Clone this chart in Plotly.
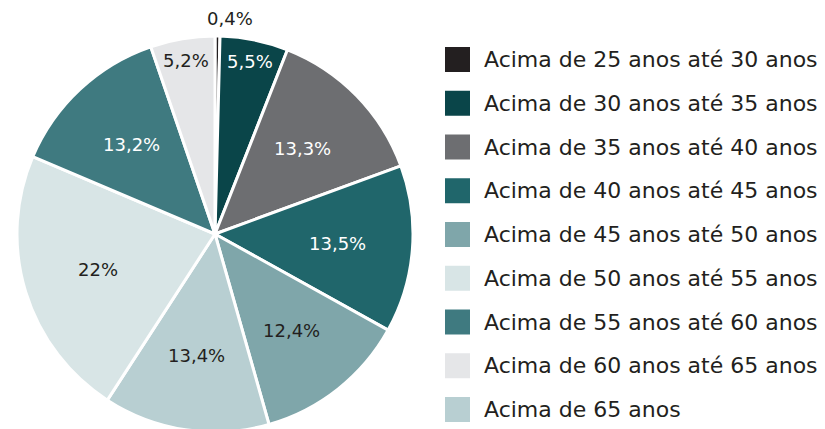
import math
import plotly.graph_objects as go

# Pie slices (in drawing order, clockwise from 12 o'clock)
slice_labels = [
    "Acima de 25 anos até 30 anos",
    "Acima de 30 anos até 35 anos",
    "Acima de 35 anos até 40 anos",
    "Acima de 40 anos até 45 anos",
    "Acima de 45 anos até 50 anos",
    "Acima de 65 anos",
    "Acima de 50 anos até 55 anos",
    "Acima de 55 anos até 60 anos",
    "Acima de 60 anos até 65 anos",
]
slice_values = [0.4, 5.5, 13.3, 13.5, 12.4, 13.4, 22, 13.2, 5.2]

# Legend order
legend_labels = [
    "Acima de 25 anos até 30 anos",
    "Acima de 30 anos até 35 anos",
    "Acima de 35 anos até 40 anos",
    "Acima de 40 anos até 45 anos",
    "Acima de 45 anos até 50 anos",
    "Acima de 50 anos até 55 anos",
    "Acima de 55 anos até 60 anos",
    "Acima de 60 anos até 65 anos",
    "Acima de 65 anos",
]

color_map = {
    "Acima de 25 anos até 30 anos": "#231f20",
    "Acima de 30 anos até 35 anos": "#0a4549",
    "Acima de 35 anos até 40 anos": "#6d6e71",
    "Acima de 40 anos até 45 anos": "#20666b",
    "Acima de 45 anos até 50 anos": "#7fa6aa",
    "Acima de 50 anos até 55 anos": "#d8e5e6",
    "Acima de 55 anos até 60 anos": "#3f7a80",
    "Acima de 60 anos até 65 anos": "#e5e6e8",
    "Acima de 65 anos": "#b8cfd2",
}
dark_labels = {
    "Acima de 30 anos até 35 anos",
    "Acima de 35 anos até 40 anos",
    "Acima de 40 anos até 45 anos",
    "Acima de 55 anos até 60 anos",
}

# Figure geometry (page has an 8px body margin)
W, H = 817, 429
TOP = 28
PLOT_H = H - TOP
CX_PX, R_PX = 207, 198
FONT = "DejaVu Sans, Verdana, sans-serif"
TEXT_DARK = "#231f20"

texts = [f"{v:g}".replace(".", ",") + "%" for v in slice_values]
colors = [color_map[l] for l in slice_labels]

dom_y0 = (PLOT_H - 2 * R_PX) / PLOT_H

fig = go.Figure()
fig.add_trace(go.Pie(
    labels=slice_labels,
    values=slice_values,
    textinfo="none",
    sort=False,
    direction="clockwise",
    rotation=0,
    marker=dict(colors=colors, line=dict(color="#ffffff", width=3)),
    showlegend=False,
    hoverinfo="label+percent",
    domain=dict(x=[(CX_PX - R_PX) / W, (CX_PX + R_PX) / W], y=[dom_y0, 1]),
))

# Slice labels placed at the mid-angle of each slice
total = sum(slice_values)
cx_paper = CX_PX / W
cy_paper = 1 - R_PX / PLOT_H
rx = R_PX / W
ry = R_PX / PLOT_H
cum = 0.0
for lab, v, t in zip(slice_labels, slice_values, texts):
    frac = v / total
    mid = (cum + frac / 2) * 2 * math.pi
    cum += frac
    if frac < 0.01:
        rf, col, xs = 1.09, TEXT_DARK, 12
    elif frac < 0.07:
        rf, col, xs = 0.89, ("#ffffff" if lab in dark_labels else TEXT_DARK), 0
    else:
        rf, col, xs = 0.62, ("#ffffff" if lab in dark_labels else TEXT_DARK), 0
    fig.add_annotation(
        xref="paper", yref="paper",
        x=cx_paper + rf * rx * math.sin(mid),
        y=cy_paper + rf * ry * math.cos(mid),
        xshift=xs,
        text=t, showarrow=False, xanchor="center", yanchor="middle",
        font=dict(size=18, color=col, family=FONT),
    )

# Custom legend built from the legend arrays
x0_px, sq = 437, 25
y_first, step = 51.5, 43.75


def yp(px):
    return 1 - (px - TOP) / PLOT_H


for i, lab in enumerate(legend_labels):
    yc = y_first + i * step
    fig.add_shape(
        type="rect", xref="paper", yref="paper",
        x0=x0_px / W, x1=(x0_px + sq) / W,
        y0=yp(yc + sq / 2), y1=yp(yc - sq / 2),
        fillcolor=color_map[lab], line=dict(width=0),
    )
    fig.add_annotation(
        xref="paper", yref="paper", x=474 / W, y=yp(yc),
        text=lab, showarrow=False, xanchor="left", yanchor="middle",
        font=dict(size=22, color=TEXT_DARK, family=FONT),
    )

fig.update_layout(
    width=W, height=H,
    margin=dict(l=0, r=0, t=TOP, b=0),
    paper_bgcolor="#ffffff",
    plot_bgcolor="#ffffff",
)

fig.write_html("out.html")
